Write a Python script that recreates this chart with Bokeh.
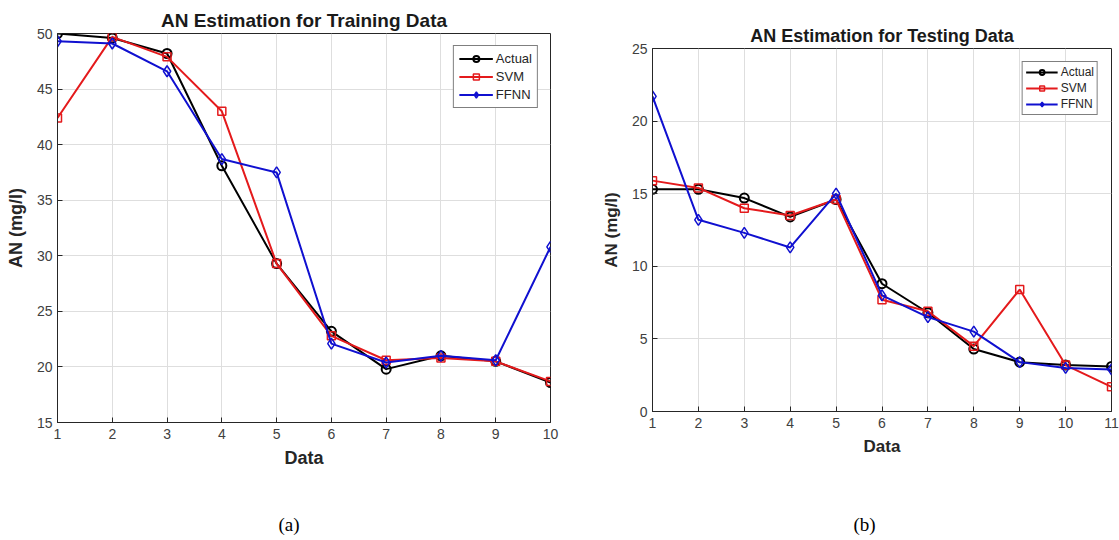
from bokeh.plotting import figure
from bokeh.layouts import row, column
from bokeh.models import Range1d, FixedTicker, Div
from bokeh.embed import file_html
from bokeh.resources import INLINE

# ---- data (a) training ----
train_x = [1, 2, 3, 4, 5, 6, 7, 8, 9, 10]
train_actual = [50.0, 49.6, 48.2, 38.1, 29.3, 23.2, 19.8, 21.0, 20.5, 18.6]
train_svm = [42.4, 49.7, 47.9, 43.0, 29.3, 22.8, 20.6, 20.8, 20.5, 18.7]
train_ffnn = [49.3, 49.1, 46.6, 38.7, 37.5, 22.1, 20.4, 21.0, 20.6, 30.8]
train_yticks = [15, 20, 25, 30, 35, 40, 45, 50]

# ---- data (b) testing ----
test_x = [1, 2, 3, 4, 5, 6, 7, 8, 9, 10, 11]
test_actual = [15.3, 15.3, 14.7, 13.4, 14.6, 8.8, 6.8, 4.3, 3.4, 3.2, 3.1]
test_svm = [15.9, 15.4, 14.0, 13.5, 14.6, 7.7, 6.9, 4.5, 8.4, 3.2, 1.7]
test_ffnn = [21.7, 13.2, 12.3, 11.3, 15.0, 8.0, 6.5, 5.5, 3.4, 3.0, 2.9]
test_yticks = [0, 5, 10, 15, 20, 25]

FONT = "Liberation Sans"
AXC = "#262626"
TICKC = "#404040"
FIG_H = 505


def make_panel(title, xs, actual, svm, ffnn, yticks, ylo, yhi, width, mb, st):
    p = figure(width=width, height=FIG_H, output_backend="svg", toolbar_location=None,
               x_range=Range1d(xs[0], xs[-1]), y_range=Range1d(ylo, yhi),
               min_border_left=mb[0], min_border_right=mb[1],
               min_border_top=mb[2], min_border_bottom=mb[3])
    p.title.text = title
    p.title.align = "center"
    p.title.text_font = FONT
    p.title.text_font_size = st["title"]
    p.title.text_font_style = "bold"
    p.title.text_color = "#1a1a1a"
    p.title.standoff = 5

    p.outline_line_color = AXC
    p.outline_line_width = 1
    p.outline_line_alpha = 1

    for ax in (p.xaxis[0], p.yaxis[0]):
        ax.axis_line_color = AXC
        ax.major_tick_line_color = AXC
        ax.major_tick_in = 5
        ax.major_tick_out = 0
        ax.minor_tick_line_color = None
        ax.major_label_text_font = FONT
        ax.major_label_text_font_size = st["tick"]
        ax.major_label_text_color = TICKC
        ax.axis_label_text_font = FONT
        ax.axis_label_text_font_size = st["axis"]
        ax.axis_label_text_font_style = "bold"
        ax.axis_label_text_color = "#262626"
    p.xaxis.ticker = FixedTicker(ticks=xs)
    p.yaxis.ticker = FixedTicker(ticks=yticks)
    p.xaxis.axis_label = "Data"
    p.yaxis.axis_label = "AN (mg/l)"
    p.xaxis.major_label_standoff = 6
    p.yaxis.major_label_standoff = 5
    p.xaxis.axis_label_standoff = 6
    p.yaxis.axis_label_standoff = 8

    p.xgrid.ticker = FixedTicker(ticks=xs)
    p.ygrid.ticker = FixedTicker(ticks=yticks)
    p.grid.grid_line_color = "#dedede"
    p.grid.grid_line_width = 1

    p.line(xs, actual, color="black", line_width=2, legend_label="Actual")
    p.scatter(xs, actual, marker="circle", size=9, line_color="black", line_width=2,
              fill_color=None, legend_label="Actual")
    p.line(xs, svm, color="#e41a1c", line_width=2, legend_label="SVM")
    p.scatter(xs, svm, marker="square", size=8, line_color="#e41a1c", line_width=1.5,
              fill_color=None, legend_label="SVM")
    p.line(xs, ffnn, color="#1010d0", line_width=2, legend_label="FFNN")
    p.scatter(xs, ffnn, marker="diamond", size=11, line_color="#1010d0", line_width=1.5,
              fill_color=None, legend_label="FFNN")

    lg = p.legend[0]
    lg.location = "top_right"
    lg.margin = st["lg_margin"]
    lg.border_line_color = "black"
    lg.border_line_width = 1
    lg.background_fill_color = "white"
    lg.background_fill_alpha = 1
    lg.label_text_font = FONT
    lg.label_text_font_size = st["lg_font"]
    lg.label_text_color = "#262626"
    lg.glyph_width = st["lg_gw"]
    lg.glyph_height = st["lg_h"]
    lg.label_height = st["lg_h"]
    lg.spacing = st["lg_sp"]
    lg.padding = st["lg_pad"]
    lg.label_standoff = 3
    return p


def caption(text, width, shift):
    return Div(text=f'<div style="position:relative; left:{shift}px; top:10px; '
                    f'text-align:center; width:{width}px;">{text}</div>',
               width=width, height=540 - FIG_H, margin=0,
               styles={"font-family": "Liberation Serif", "font-size": "19px",
                       "color": "black", "line-height": "20px", "overflow": "visible"})


st_a = dict(title="19px", tick="14px", axis="18px", lg_margin=12, lg_font="13px",
            lg_gw=34, lg_h=15, lg_sp=3, lg_pad=5)
st_b = dict(title="18px", tick="14px", axis="17px", lg_margin=13, lg_font="12px",
            lg_gw=32, lg_h=12, lg_sp=2, lg_pad=3)

p1 = make_panel("AN Estimation for Training Data", train_x, train_actual, train_svm, train_ffnn,
                train_yticks, 15, 50, 560, (57, 10, 33, FIG_H - 422), st_a)
p2 = make_panel("AN Estimation for Testing Data", test_x, test_actual, test_svm, test_ffnn,
                test_yticks, 0, 25, 559, (92, 8, 48, FIG_H - 411), st_b)

layout = row(column(p1, caption("(a)", 560, 9)), column(p2, caption("(b)", 559, 25)))
open("out.html", "w").write(file_html(layout, INLINE))
